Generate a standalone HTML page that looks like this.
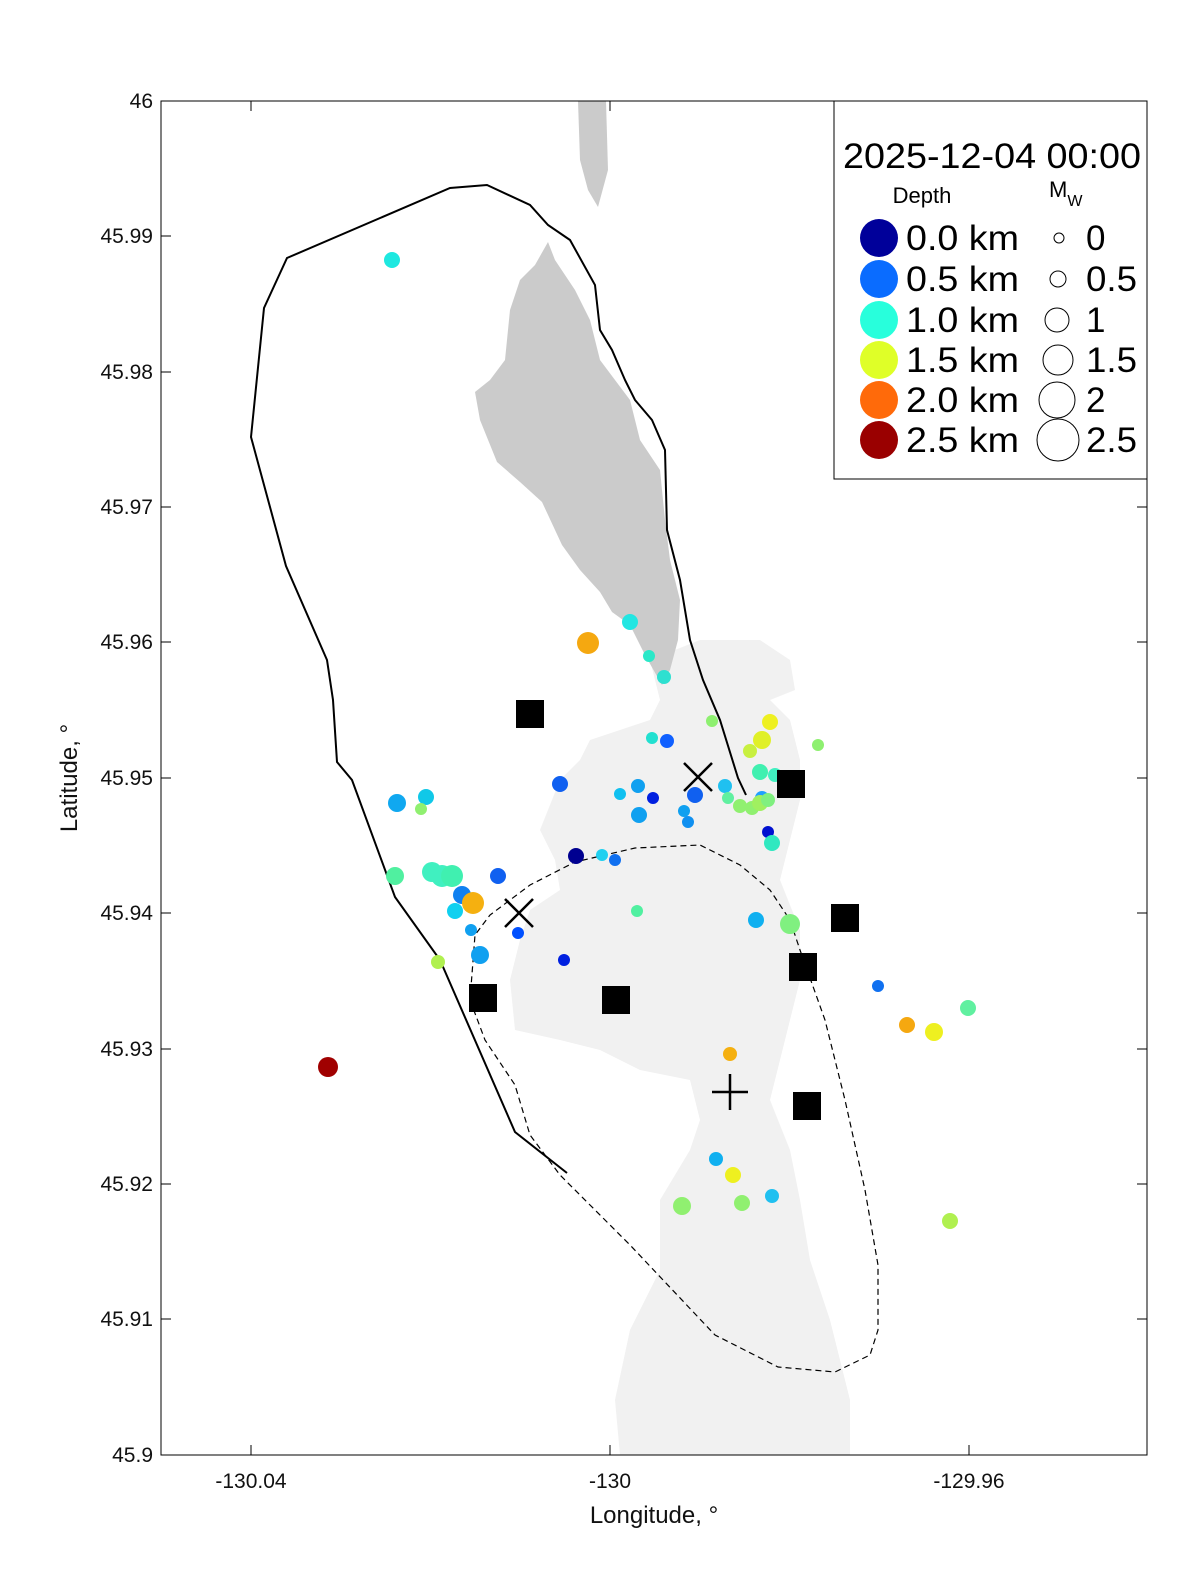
<!DOCTYPE html>
<html><head><meta charset="utf-8"><style>body{margin:0;background:#fff}svg{display:block}text{font-family:"Liberation Sans",sans-serif}</style></head><body>
<svg width="1200" height="1575" viewBox="0 0 1200 1575" xmlns="http://www.w3.org/2000/svg">
<defs><clipPath id="c"><rect x="161" y="101" width="986" height="1354"/></clipPath></defs>
<g clip-path="url(#c)">
<path d="M650,660 L700,640 760,640 790,660 795,690 770,700 790,720 800,760 800,800 790,840 780,880 800,930 800,980 790,1020 780,1060 770,1100 790,1150 800,1200 810,1260 830,1320 850,1400 850,1455 620,1455 615,1400 630,1330 660,1270 660,1200 690,1150 700,1120 690,1080 640,1070 600,1050 560,1040 515,1030 510,980 520,940 530,910 560,890 555,860 540,830 560,780 580,760 590,740 620,730 650,720 660,700 Z" fill="#f1f1f1"/>
<path d="M578,101 L606,101 608,170 598,207 588,190 580,160 Z" fill="#cbcbcb"/>
<path d="M548,242 L555,260 575,290 590,320 600,360 630,400 640,440 660,470 665,520 670,560 680,600 678,640 670,670 662,685 645,655 630,625 612,612 600,592 580,570 562,545 542,502 520,482 497,462 480,420 475,392 490,380 505,360 510,310 520,280 535,265 Z" fill="#cbcbcb"/>
<path d="M567,1173 L515,1132 440,960 395,897 352,780 337,762 333,700 327,660 286,566 251,437 264,308 287,258 450,188 487,185 530,205 548,225 570,240 595,285 600,330 612,350 625,380 635,400 652,420 665,450 667,530 680,580 690,640 703,680 720,720 738,778 746,795" fill="none" stroke="#000" stroke-width="2"/>
<path d="M470,1000 L485,1040 515,1085 530,1135 560,1175 630,1245 715,1335 778,1367 835,1372 870,1355 878,1330 878,1265 865,1190 845,1100 825,1020 800,950 790,920 770,890 740,865 700,845 635,848 575,862 530,885 490,915 475,935 Z" fill="none" stroke="#000" stroke-width="1.2" stroke-dasharray="6,4"/>
<g>
<circle cx="392" cy="260" r="8" fill="#1ee8e0"/><circle cx="588" cy="643" r="11" fill="#f5a810"/><circle cx="630" cy="622" r="8" fill="#22e6e2"/><circle cx="649" cy="656" r="6" fill="#2ae8c8"/><circle cx="664" cy="677" r="7" fill="#2ee0d0"/><circle cx="712" cy="721" r="6" fill="#8ef070"/><circle cx="770" cy="722" r="8" fill="#eef020"/><circle cx="762" cy="740" r="9" fill="#e0f028"/><circle cx="750" cy="751" r="7" fill="#c8f040"/><circle cx="818" cy="745" r="6" fill="#8ef070"/><circle cx="652" cy="738" r="6" fill="#22e0d0"/><circle cx="667" cy="741" r="7" fill="#1060ff"/><circle cx="560" cy="784" r="8" fill="#1060f0"/><circle cx="620" cy="794" r="6" fill="#10c0f0"/><circle cx="638" cy="786" r="7" fill="#10a0f0"/><circle cx="653" cy="798" r="6" fill="#0020e0"/><circle cx="695" cy="795" r="8" fill="#1060f0"/><circle cx="725" cy="786" r="7" fill="#20c0f0"/><circle cx="728" cy="798" r="6" fill="#60f0a0"/><circle cx="760" cy="772" r="8" fill="#40f0b0"/><circle cx="775" cy="775" r="7" fill="#40f0c0"/><circle cx="740" cy="806" r="7" fill="#90f070"/><circle cx="752" cy="808" r="7" fill="#90f070"/><circle cx="762" cy="798" r="7" fill="#20a0ff"/><circle cx="760" cy="803" r="8" fill="#a0f060"/><circle cx="768" cy="800" r="7" fill="#80f080"/><circle cx="684" cy="811" r="6" fill="#10a0f0"/><circle cx="688" cy="822" r="6" fill="#1090f0"/><circle cx="639" cy="815" r="8" fill="#10a0f0"/><circle cx="768" cy="832" r="6" fill="#0010d0"/><circle cx="772" cy="843" r="8" fill="#30e8c0"/><circle cx="576" cy="856" r="8" fill="#000090"/><circle cx="602" cy="855" r="6" fill="#20d0f0"/><circle cx="615" cy="860" r="6" fill="#1070f0"/><circle cx="397" cy="803" r="9" fill="#10a8f0"/><circle cx="426" cy="797" r="8" fill="#10c8e8"/><circle cx="421" cy="809" r="6" fill="#90f070"/><circle cx="395" cy="876" r="9" fill="#50f0a0"/><circle cx="432" cy="872" r="10" fill="#40f0c0"/><circle cx="442" cy="876" r="11" fill="#40f0c0"/><circle cx="452" cy="876" r="11" fill="#40f0b0"/><circle cx="455" cy="911" r="8" fill="#10d0f0"/><circle cx="462" cy="895" r="9" fill="#1080f0"/><circle cx="473" cy="903" r="11" fill="#f5b010"/><circle cx="498" cy="876" r="8" fill="#1060f0"/><circle cx="471" cy="930" r="6" fill="#10a0f0"/><circle cx="518" cy="933" r="6" fill="#0050ff"/><circle cx="480" cy="955" r="9" fill="#10a0f0"/><circle cx="438" cy="962" r="7" fill="#b0f050"/><circle cx="564" cy="960" r="6" fill="#0020e0"/><circle cx="637" cy="911" r="6" fill="#50f0a0"/><circle cx="756" cy="920" r="8" fill="#10b0f0"/><circle cx="790" cy="924" r="10" fill="#80f080"/><circle cx="878" cy="986" r="6" fill="#1070f0"/><circle cx="907" cy="1025" r="8" fill="#f5a810"/><circle cx="934" cy="1032" r="9" fill="#eef020"/><circle cx="968" cy="1008" r="8" fill="#60f0a0"/><circle cx="730" cy="1054" r="7" fill="#f5b010"/><circle cx="328" cy="1067" r="10" fill="#a00000"/><circle cx="716" cy="1159" r="7" fill="#10b0f0"/><circle cx="733" cy="1175" r="8" fill="#eef020"/><circle cx="682" cy="1206" r="9" fill="#90f070"/><circle cx="742" cy="1203" r="8" fill="#90f070"/><circle cx="772" cy="1196" r="7" fill="#20c0f0"/><circle cx="950" cy="1221" r="8" fill="#b0f050"/>
</g>
<g fill="#000">
<rect x="516" y="700" width="28" height="28"/><rect x="777" y="770" width="28" height="28"/><rect x="831" y="904" width="28" height="28"/><rect x="789" y="953" width="28" height="28"/><rect x="469" y="984" width="28" height="28"/><rect x="602" y="986" width="28" height="28"/><rect x="793" y="1092" width="28" height="28"/>
</g>
<g stroke="#000" stroke-width="2.5">
<path d="M684,763 L712,791 M712,763 L684,791"/><path d="M505,899 L533,927 M533,899 L505,927"/><path d="M730,1074 V1110 M712,1092 H748"/>
</g>
</g>
<rect x="161" y="101" width="986" height="1354" fill="none" stroke="#000" stroke-width="1"/>
<g stroke="#000" stroke-width="1">
<path d="M251,1455v-10M610,1455v-10M969,1455v-10M251,101v10M610,101v10M969,101v10"/>
<path d="M161,236h10M161,372h10M161,507h10M161,642h10M161,778h10M161,913h10M161,1049h10M161,1184h10M161,1319h10"/>
<path d="M1147,236h-10M1147,372h-10M1147,507h-10M1147,642h-10M1147,778h-10M1147,913h-10M1147,1049h-10M1147,1184h-10M1147,1319h-10"/>
</g>
<g font-size="21" fill="#111" text-anchor="end">
<text x="153" y="108">46</text><text x="153" y="243">45.99</text><text x="153" y="379">45.98</text><text x="153" y="514">45.97</text><text x="153" y="649">45.96</text><text x="153" y="785">45.95</text><text x="153" y="920">45.94</text><text x="153" y="1056">45.93</text><text x="153" y="1191">45.92</text><text x="153" y="1326">45.91</text><text x="153" y="1462">45.9</text>
</g>
<g font-size="21" fill="#111" text-anchor="middle">
<text x="251" y="1488">-130.04</text><text x="610" y="1488">-130</text><text x="969" y="1488">-129.96</text>
<text x="654" y="1523" font-size="24">Longitude, °</text>
</g>
<text transform="translate(77,778) rotate(-90)" font-size="24" fill="#111" text-anchor="middle">Latitude, °</text>
<rect x="834" y="101" width="313" height="378" fill="#fff" stroke="#000" stroke-width="1"/>
<text x="843" y="168" font-size="35" textLength="298" lengthAdjust="spacingAndGlyphs">2025-12-04 00:00</text>
<text x="922" y="203" font-size="22" text-anchor="middle">Depth</text>
<text x="1049" y="197" font-size="22">M<tspan font-size="16" dy="9">W</tspan></text>
<g font-size="35">
<circle cx="879" cy="238" r="19" fill="#00009a"/><text x="906" y="250" textLength="113" lengthAdjust="spacingAndGlyphs">0.0 km</text>
<circle cx="879" cy="279" r="19" fill="#0a6cff"/><text x="906" y="291" textLength="113" lengthAdjust="spacingAndGlyphs">0.5 km</text>
<circle cx="879" cy="320" r="19" fill="#28ffdc"/><text x="906" y="332" textLength="113" lengthAdjust="spacingAndGlyphs">1.0 km</text>
<circle cx="879" cy="360" r="19" fill="#dfff28"/><text x="906" y="372" textLength="113" lengthAdjust="spacingAndGlyphs">1.5 km</text>
<circle cx="879" cy="400" r="19" fill="#ff6a0a"/><text x="906" y="412" textLength="113" lengthAdjust="spacingAndGlyphs">2.0 km</text>
<circle cx="879" cy="440" r="19" fill="#9a0000"/><text x="906" y="452" textLength="113" lengthAdjust="spacingAndGlyphs">2.5 km</text>
<g fill="none" stroke="#000" stroke-width="1">
<circle cx="1059" cy="238" r="5"/><circle cx="1058" cy="279" r="8"/><circle cx="1057" cy="320" r="12"/><circle cx="1058" cy="360" r="15"/><circle cx="1057" cy="400" r="18"/><circle cx="1058" cy="440" r="21"/>
</g>
<text x="1086" y="250">0</text><text x="1086" y="291" textLength="51" lengthAdjust="spacingAndGlyphs">0.5</text><text x="1086" y="332">1</text><text x="1086" y="372" textLength="51" lengthAdjust="spacingAndGlyphs">1.5</text><text x="1086" y="412">2</text><text x="1086" y="452" textLength="51" lengthAdjust="spacingAndGlyphs">2.5</text>
</g>
</svg>
</body></html>
